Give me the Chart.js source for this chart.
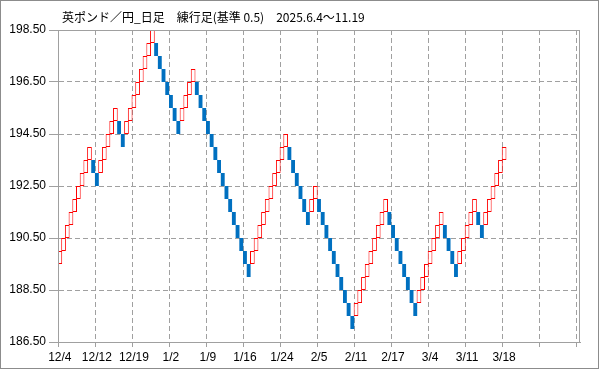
<!DOCTYPE html>
<html>
<head>
<meta charset="utf-8">
<script src="https://cdn.jsdelivr.net/npm/chart.js@4/dist/chart.umd.min.js"></script>
<style>
  html, body { margin: 0; padding: 0; background: #fff; }
</style>
</head>
<body>
<canvas id="renkoChart" width="599" height="369"></canvas>
<script>
const titleText = "英ポンド／円_日足　練行足(基準 0.5)　2025.6.4〜11.19";
const brickSize = 0.5;

// date labels shown every 10 bricks
const tickLabels = ["12/4", "12/12", "12/19", "1/2", "1/9", "1/16", "1/24", "2/5", "2/11", "2/17", "3/4", "3/11", "3/18"];
const yTicks = [186.5, 188.5, 190.5, 192.5, 194.5, 196.5, 198.5];

// bottom price of each brick, left to right
const brickLow = [
  189.5, 190, 190.5, 191, 191.5, 192, 192.5, 193, 193.5,
  193, 192.5,
  193, 193.5, 194, 194.5, 195,
  194.5, 194,
  194.5, 195, 195.5, 196, 196.5, 197, 197.5, 198,
  197.5, 197, 196.5, 196, 195.5, 195, 194.5,
  195, 195.5, 196, 196.5,
  196, 195.5, 195, 194.5, 194, 193.5, 193, 192.5, 192, 191.5, 191, 190.5, 190, 189.5, 189,
  189.5, 190, 190.5, 191, 191.5, 192, 192.5, 193, 193.5, 194,
  193.5, 193, 192.5, 192, 191.5, 191,
  191.5, 192,
  191.5, 191, 190.5, 190, 189.5, 189, 188.5, 188, 187.5, 187,
  187.5, 188, 188.5, 189, 189.5, 190, 190.5, 191, 191.5,
  191, 190.5, 190, 189.5, 189, 188.5, 188, 187.5,
  188, 188.5, 189, 189.5, 190, 190.5, 191,
  190.5, 190, 189.5, 189,
  189.5, 190, 190.5, 191, 191.5,
  191, 190.5,
  191, 191.5, 192, 192.5, 193, 193.5
];
// 1 = up (red outline), 0 = down (blue)
const brickUp = [
  1, 1, 1, 1, 1, 1, 1, 1, 1,
  0, 0,
  1, 1, 1, 1, 1,
  0, 0,
  1, 1, 1, 1, 1, 1, 1, 1,
  0, 0, 0, 0, 0, 0, 0,
  1, 1, 1, 1,
  0, 0, 0, 0, 0, 0, 0, 0, 0, 0, 0, 0, 0, 0, 0,
  1, 1, 1, 1, 1, 1, 1, 1, 1, 1,
  0, 0, 0, 0, 0, 0,
  1, 1,
  0, 0, 0, 0, 0, 0, 0, 0, 0, 0,
  1, 1, 1, 1, 1, 1, 1, 1, 1,
  0, 0, 0, 0, 0, 0, 0, 0,
  1, 1, 1, 1, 1, 1, 1,
  0, 0, 0, 0,
  1, 1, 1, 1, 1,
  0, 0,
  1, 1, 1, 1, 1, 1
];

const slotCount = 141;
const labels = [];
for (let i = 0; i < slotCount; i++) {
  labels.push(i % 10 === 0 && tickLabels[i / 10] ? tickLabels[i / 10] : "");
}

const upData = brickLow.map((v, i) => brickUp[i] ? [v, v + brickSize] : null);
const downData = brickLow.map((v, i) => brickUp[i] ? null : [v, v + brickSize]);

const gridColor = "#a0a0a0";
const frameColor = "#a0a0a0";
const tickFont = { family: "'Liberation Sans', Arial, sans-serif", size: 12 };

const framePlugin = {
  id: "frame",
  afterDraw(chart) {
    const { ctx, chartArea: a } = chart;
    ctx.save();
    ctx.lineWidth = 1;
    ctx.strokeStyle = frameColor;
    ctx.strokeRect(Math.round(a.left) + 0.5, Math.round(a.top) + 0.5,
      Math.round(a.right - a.left) - 1, Math.round(a.bottom - a.top));
    ctx.strokeStyle = "#8c8c8c";
    ctx.strokeRect(0.5, 0.5, chart.width - 1, chart.height - 1);
    ctx.fillStyle = "#000";
    ctx.font = "12px 'Noto Sans CJK JP'";
    ctx.textBaseline = "middle";
    ctx.fillText(titleText, 62, 17);
    ctx.restore();
  }
};

const ctx = document.getElementById("renkoChart").getContext("2d");

new Chart(ctx, {
  type: "bar",
  data: {
    labels,
    datasets: [
      {
        label: "down",
        data: downData,
        backgroundColor: "#0070c0",
        borderWidth: 0,
        grouped: false,
        barPercentage: 1.05,
        categoryPercentage: 1,
        inflateAmount: 0,
      },
      {
        // outline bricks are a bit wider so neighbours share their edges
        label: "up",
        data: upData,
        backgroundColor: "#ffffff",
        borderColor: "#ff0000",
        borderWidth: 1,
        borderSkipped: false,
        grouped: false,
        barPercentage: 1.27,
        categoryPercentage: 1,
        inflateAmount: 0,
      },
    ],
  },
  options: {
    responsive: false,
    animation: false,
    layout: { padding: { left: 0, top: 30, right: 19, bottom: 0 } },
    plugins: {
      legend: { display: false },
      tooltip: { enabled: false },
    },
    scales: {
      x: {
        offset: true,
        grid: {
          offset: true,
          color: (c) => (c.index % 10 === 0 ? gridColor : "transparent"),
          tickColor: (c) => (c.index % 10 === 0 ? gridColor : "transparent"),
          tickLength: 5,
        },
        border: { color: frameColor, dash: [5, 3] },
        ticks: {
          autoSkip: false,
          maxRotation: 0,
          minRotation: 0,
          padding: 3,
          color: "#000",
          font: tickFont,
        },
        afterFit: (s) => { s.height = 27; },
      },
      y: {
        min: 186.5,
        max: 198.5,
        afterBuildTicks: (s) => { s.ticks = yTicks.map((v) => ({ value: v })); },
        grid: { color: gridColor, tickColor: gridColor, tickLength: 9 },
        border: { color: frameColor, dash: [5, 3] },
        ticks: {
          padding: 3,
          color: "#000",
          font: tickFont,
          callback: (v) => Number(v).toFixed(2),
        },
        afterFit: (s) => { s.width = 58; },
      },
    },
  },
  plugins: [framePlugin],
});
</script>
</body>
</html>
